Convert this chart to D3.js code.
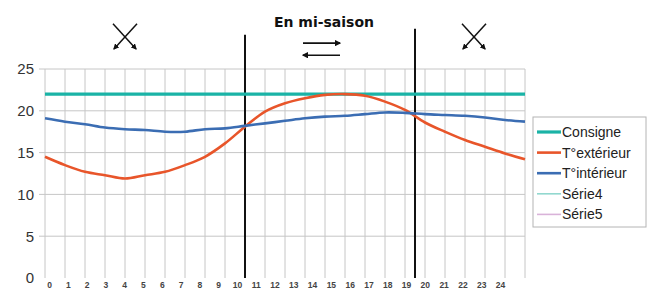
<!DOCTYPE html>
<html>
<head>
<meta charset="utf-8">
<title>En mi-saison</title>
<script src="https://d3js.org/d3.v7.min.js"></script>
<style>
    body { margin: 0; background: #fff; }
    svg { display: block; font-family: "Liberation Sans", Arial, sans-serif; }
</style>
</head>
<body>
<svg width="648" height="291"></svg>
<script>
// hours of the day (x categories)
const hours = [0, 1, 2, 3, 4, 5, 6, 7, 8, 9, 10, 11, 12, 13, 14, 15, 16, 17, 18, 19, 20, 21, 22, 23, 24];
const yTicks = [0, 5, 10, 15, 20, 25];

// series
const consigne   = [22, 22, 22, 22, 22, 22, 22, 22, 22, 22, 22, 22, 22, 22, 22, 22, 22, 22, 22, 22, 22, 22, 22, 22, 22];
const exterieur  = [14.5, 13.5, 12.7, 12.3, 11.9, 12.3, 12.7, 13.5, 14.5, 16.1, 18.1, 19.9, 20.9, 21.5, 21.9, 22.0, 21.8, 21.1, 20.1, 18.6, 17.5, 16.5, 15.7, 14.9, 14.2];
const interieur  = [19.1, 18.7, 18.4, 18.0, 17.8, 17.7, 17.5, 17.5, 17.8, 17.9, 18.2, 18.5, 18.8, 19.1, 19.3, 19.4, 19.6, 19.8, 19.75, 19.6, 19.5, 19.4, 19.2, 18.9, 18.7];

const seriesNames = ["Consigne", "T°extérieur", "T°intérieur", "Série4", "Série5"];

// season dividers (hour, top value)
const dividerHours = [10, 18.5];
const dividerTops = [29.1, 29.8];

const svg = d3.select("svg");
const margin = {left: 45, top: 69, right: 123, bottom: 13};
const width = 648 - margin.left - margin.right,    // 480
      height = 291 - margin.top - margin.bottom;   // 209

const x = d3.scaleLinear().domain([0, 24]).range([margin.left, margin.left + width]);
const y = d3.scaleLinear().domain([0, 25]).range([margin.top + height, margin.top]);
// the hour labels in the picture are squeezed slightly compared to the grid
const xLabel = d3.scaleLinear().domain([0, 24]).range([49, 500]);

const color = d3.scaleOrdinal()
    .domain(seriesNames)
    .range(["#1ab3a6", "#e8552a", "#3b6db3", "#92d8cf", "#d9b3d9"]);
const strokeW = {"Consigne": 3.2, "T°extérieur": 2.6, "T°intérieur": 2.6, "Série4": 1.6, "Série5": 1.6};

// grid
const grid = svg.append("g");
grid.selectAll(".hgrid")
    .data(yTicks.filter(d => d > 0))
    .join("line")
    .attr("class", "hgrid")
    .attr("x1", margin.left - 6).attr("x2", x(24))
    .attr("y1", d => y(d)).attr("y2", d => y(d))
    .attr("stroke", "#c6c6c6").attr("stroke-width", 1);

grid.selectAll(".vgrid")
    .data(hours)
    .join("line")
    .attr("class", "vgrid")
    .attr("x1", d => x(d)).attr("x2", d => x(d))
    .attr("y1", y(25)).attr("y2", y(0))
    .attr("stroke", "#c6c6c6").attr("stroke-width", 1);

// y axis
const yAxis = svg.append("g")
    .attr("transform", "translate(" + (margin.left - 11) + ",0)")
    .call(d3.axisLeft(y).tickValues(yTicks).tickSize(0).tickPadding(0));
yAxis.select(".domain").remove();
yAxis.selectAll("text")
    .attr("font-family", "'Liberation Sans', Arial, sans-serif")
    .attr("font-size", 15)
    .attr("fill", "#333");

// x axis labels
const xAxis = svg.append("g")
    .attr("transform", "translate(0," + (y(0) + 2) + ")")
    .call(d3.axisBottom(xLabel).tickValues(hours).tickFormat(d3.format("d")).tickSize(0).tickPadding(2));
xAxis.select(".domain").remove();
xAxis.selectAll("text")
    .attr("font-family", "'Liberation Sans', Arial, sans-serif")
    .attr("font-size", 8.5)
    .attr("font-weight", "bold")
    .attr("fill", "#444");

// lines
const line = d3.line()
    .x((d, i) => x(hours[i]))
    .y(d => y(d))
    .curve(d3.curveCatmullRom.alpha(0.5));

const plotted = [
    {name: "Consigne", values: consigne},
    {name: "T°extérieur", values: exterieur},
    {name: "T°intérieur", values: interieur}
];

// black dividers drawn under the curves crossing
svg.selectAll(".divider")
    .data(dividerHours)
    .join("line")
    .attr("class", "divider")
    .attr("x1", d => x(d)).attr("x2", d => x(d))
    .attr("y1", (d, i) => y(dividerTops[i])).attr("y2", y(0))
    .attr("stroke", "#111").attr("stroke-width", 2);

svg.selectAll(".series")
    .data(plotted)
    .join("path")
    .attr("class", "series")
    .attr("fill", "none")
    .attr("stroke", d => color(d.name))
    .attr("stroke-width", d => strokeW[d.name])
    .attr("stroke-linejoin", "round")
    .attr("d", d => line(d.values));

// title and arrows
svg.append("text")
    .attr("x", x(13.95))
    .attr("y", 27)
    .attr("text-anchor", "middle")
    .attr("font-family", "'DejaVu Sans', sans-serif")
    .attr("font-weight", "bold")
    .attr("font-size", 14)
    .attr("fill", "#111")
    .text("En mi-saison");

const defs = svg.append("defs");
defs.append("marker")
    .attr("id", "head")
    .attr("viewBox", "0 0 10 10")
    .attr("refX", 8).attr("refY", 5)
    .attr("markerWidth", 4).attr("markerHeight", 4)
    .attr("orient", "auto")
    .append("path")
    .attr("d", "M0,0L10,5L0,10Z")
    .attr("fill", "#111");

// exchange arrows in the middle
svg.append("line")
    .attr("x1", x(12.9)).attr("x2", x(14.75))
    .attr("y1", y(28.1)).attr("y2", y(28.1))
    .attr("stroke", "#111").attr("stroke-width", 1.6)
    .attr("marker-end", "url(#head)");
svg.append("line")
    .attr("x1", x(14.75)).attr("x2", x(12.9))
    .attr("y1", y(26.65)).attr("y2", y(26.65))
    .attr("stroke", "#111").attr("stroke-width", 1.6)
    .attr("marker-end", "url(#head)");

// crossed arrows (no exchange) over the night parts
const crosses = [4, 21.45];
crosses.forEach(h => {
    const cx = x(h), top = y(30.4), bot = y(27.4);
    svg.append("line")
        .attr("x1", cx - 12).attr("y1", top).attr("x2", cx + 11).attr("y2", bot)
        .attr("stroke", "#111").attr("stroke-width", 1.5)
        .attr("marker-end", "url(#head)");
    svg.append("line")
        .attr("x1", cx + 12).attr("y1", top).attr("x2", cx - 11).attr("y2", bot)
        .attr("stroke", "#111").attr("stroke-width", 1.5)
        .attr("marker-end", "url(#head)");
});

// legend
const legend = svg.append("g").attr("transform", "translate(533,117)");
legend.append("rect")
    .attr("x", 0).attr("y", 0)
    .attr("width", 113).attr("height", 110)
    .attr("fill", "#fff")
    .attr("stroke", "#b4b4b4").attr("stroke-width", 1);

const entries = legend.selectAll(".entry")
    .data(seriesNames)
    .join("g")
    .attr("class", "entry")
    .attr("transform", (d, i) => "translate(0," + (15 + i * 20.6) + ")");
entries.append("line")
    .attr("x1", 4).attr("x2", 28)
    .attr("stroke", d => color(d))
    .attr("stroke-width", d => strokeW[d]);
entries.append("text")
    .attr("x", 29)
    .attr("dy", "0.35em")
    .attr("font-size", 14)
    .attr("fill", "#222")
    .text(d => d);
</script>
</body>
</html>
